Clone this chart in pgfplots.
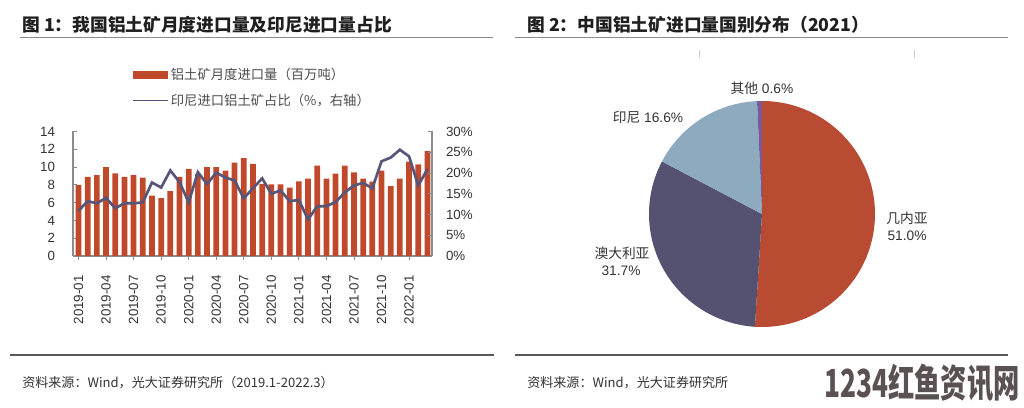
\documentclass[border=0pt]{standalone}
\usepackage{fontspec}
\setmainfont{Liberation Sans}
\newfontfamily\cjk{Noto Sans CJK SC}
\usepackage{pgfplots}
\pgfplotsset{compat=1.18}
\usepackage{pgfplotstable}

\definecolor{barred}{HTML}{C0482B}
\definecolor{linec}{HTML}{575578}
\definecolor{pied}{HTML}{B84B31}
\definecolor{pieslate}{HTML}{545270}
\definecolor{pieblue}{HTML}{8DAABF}
\definecolor{pieother}{HTML}{7B5A98}
\definecolor{axgray}{HTML}{8C8C8C}
\definecolor{txt}{HTML}{333333}
\definecolor{wm}{HTML}{5A5252}

\pgfplotstableread{
m imp share
1 8.0 10.9
2 8.9 13.2
3 9.1 12.7
4 10.0 14.0
5 9.3 11.5
6 8.9 12.7
7 9.1 12.7
8 8.8 12.9
9 6.8 17.7
10 6.5 16.5
11 7.3 20.6
12 8.9 17.8
13 9.8 12.9
14 9.2 20.2
15 10.0 17.3
16 10.0 20.1
17 9.6 18.9
18 10.5 18.2
19 11.0 13.9
20 10.35 16.3
21 8.1 18.7
22 8.05 15.0
23 8.05 15.8
24 7.7 13.2
25 8.4 13.5
26 8.7 8.8
27 10.15 12.0
28 8.7 12.0
29 9.25 13.0
30 10.15 15.3
31 9.4 17.0
32 8.7 17.6
33 8.35 16.3
34 9.6 22.8
35 7.85 23.7
36 8.7 25.6
37 10.6 24.0
38 10.3 17.0
39 11.8 20.9
}\datatable

\begin{document}
\begin{tikzpicture}
\path[use as bounding box] (0,0) rectangle (768pt,305.25pt);

\begin{scope}[x=0.75pt,y=0.75pt]
% titles
\node[anchor=west, inner sep=0pt, font=\cjk\bfseries\fontsize{13.3pt}{15pt}\selectfont, text=black!88] at (22,407-25) {图 1：我国铝土矿月度进口量及印尼进口量占比};
\node[anchor=west, inner sep=0pt, font=\cjk\bfseries\fontsize{13.3pt}{15pt}\selectfont, text=black!88] at (527,407-25) {图 2：中国铝土矿进口量国别分布（2021）};
\draw[black!45, line width=0.6pt] (20,407-37) -- (493,407-37);
\draw[black!45, line width=0.6pt] (515,407-37) -- (1008,407-37);
\draw[black!20, line width=0.6pt] (699,407-50) -- (699,407-58);
\draw[black!20, line width=0.6pt] (914,407-50) -- (914,407-58);
% footers
\draw[black!65, line width=0.8pt] (10,407-355) -- (494,407-355);
\draw[black!65, line width=0.8pt] (515,407-355) -- (1008,407-355);
\node[anchor=west, inner sep=0pt, font=\cjk\fontsize{9.8pt}{12pt}\selectfont, text=txt] at (22,407-383) {资料来源：Wind，光大证券研究所（2019.1-2022.3）};
\node[anchor=west, inner sep=0pt, font=\cjk\fontsize{9.8pt}{12pt}\selectfont, text=txt] at (527,407-383) {资料来源：Wind，光大证券研究所};
\node[anchor=east, inner sep=0pt, font=\cjk\bfseries\fontsize{29pt}{30pt}\selectfont, text=wm, xscale=0.68] at (1020,407-383) {1234红鱼资讯网};
% pie labels
\node[font=\fontsize{10.3pt}{12pt}\selectfont, text=txt] at (762,407-88) {{\cjk 其他} 0.6\%};
\node[font=\fontsize{10.3pt}{12pt}\selectfont, text=txt] at (648,407-117) {{\cjk 印尼} 16.6\%};
\node[font=\cjk\fontsize{10.3pt}{12pt}\selectfont, text=txt] at (622,407-253) {澳大利亚};
\node[font=\fontsize{10.3pt}{12pt}\selectfont, text=txt] at (621,407-271) {31.7\%};
\node[font=\cjk\fontsize{10.3pt}{12pt}\selectfont, text=txt] at (907,407-218) {几内亚};
\node[font=\fontsize{10.3pt}{12pt}\selectfont, text=txt] at (907,407-236) {51.0\%};
\end{scope}

% bar axis (left)
\begin{axis}[
  at={(54.75pt,113.25pt)}, anchor=south west, scale only axis,
  width=269.25pt, height=93.4pt,
  xmin=0.4, xmax=39.5, ymin=0, ymax=14,
  ytick={0,2,...,14},
  xtick={1,4,...,37},
  xticklabels={2019-01,2019-04,2019-07,2019-10,2020-01,2020-04,2020-07,2020-10,2021-01,2021-04,2021-07,2021-10,2022-01},
  x tick label style={rotate=90, anchor=east},
  ticklabel style={text=txt, font=\fontsize{10pt}{12pt}\selectfont},
  xticklabel shift=8pt,
  yticklabel shift=10pt,
  axis x line*=bottom, axis y line*=left,
  axis line style={axgray, line width=0.8pt},
  tick style={axgray, line width=0.6pt},
  tick align=inside, major tick length=3pt,
  /pgf/number format/assume math mode=true,
  ybar, bar width=4.3pt,
]
\addplot[fill=barred, draw=none] table[x=m,y=imp]{\datatable};
\end{axis}

% line axis (right)
\begin{axis}[
  at={(54.75pt,113.25pt)}, anchor=south west, scale only axis,
  width=269.25pt, height=93.4pt,
  xmin=0.4, xmax=39.5, ymin=0, ymax=30,
  ytick={0,5,...,30},
  yticklabel={\pgfmathprintnumber{\tick}\%},
  ticklabel style={text=txt, font=\fontsize{10pt}{12pt}\selectfont},
  yticklabel shift=7pt,
  axis x line=none, axis y line*=right,
  axis line style={axgray, line width=0.8pt},
  tick style={axgray, line width=0.6pt},
  tick align=inside, major tick length=3pt,
  /pgf/number format/assume math mode=true,
  clip=false,
  legend style={at={(0.165,1.53)}, anchor=north west, draw=none, fill=none,
    font=\cjk\fontsize{10pt}{12pt}\selectfont, text=black!70, row sep=5pt, inner sep=0pt},
  legend cell align=left,
]
\addlegendimage{legend image code/.code={\fill[barred] (0pt,-2.6pt) rectangle (26pt,2.6pt);}}
\addplot[linec, line width=2pt, legend image code/.code={\draw[linec, line width=0.8pt] (0pt,0pt) -- (26pt,0pt);}] table[x=m,y=share]{\datatable};
\legend{铝土矿月度进口量（百万吨）, 印尼进口铝土矿占比（\%，右轴）}
\end{axis}

% pie
\begin{axis}[
  at={(571.5pt,144.75pt)}, anchor=center, scale only axis,
  width=169.5pt, height=169.5pt,
  xmin=-1, xmax=1, ymin=-1, ymax=1,
  hide axis, clip=false,
]
\addplot[fill=pied, draw=none, domain=-93.6:90, samples=90] ({cos(x)},{sin(x)}) -- (axis cs:0,0) -- cycle;
\addplot[fill=pieslate, draw=none, domain=-207.72:-93.6, samples=60] ({cos(x)},{sin(x)}) -- (axis cs:0,0) -- cycle;
\addplot[fill=pieblue, draw=none, domain=-267.48:-207.72, samples=40] ({cos(x)},{sin(x)}) -- (axis cs:0,0) -- cycle;
\addplot[fill=pieother, draw=none, domain=-270:-267.48, samples=5] ({cos(x)},{sin(x)}) -- (axis cs:0,0) -- cycle;
\end{axis}
\end{tikzpicture}
\end{document}
